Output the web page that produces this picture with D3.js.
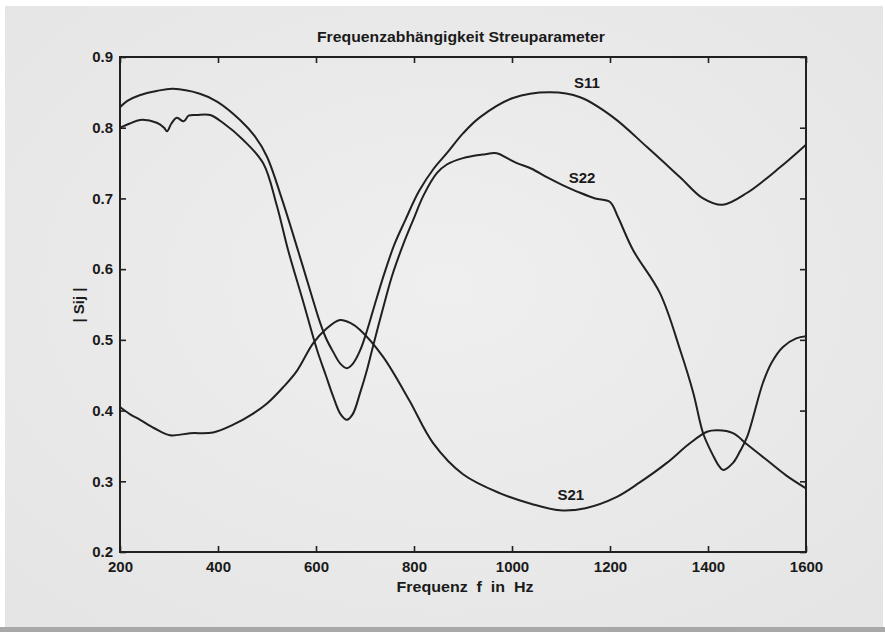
<!DOCTYPE html>
<html><head><meta charset="utf-8">
<script src="https://cdn.jsdelivr.net/npm/d3@7/dist/d3.min.js"></script>
<style>
html,body{margin:0;padding:0;background:#fff;}
svg{display:block;}
text{font-family:"Liberation Sans",Arial,sans-serif;fill:#1a1a1a;}
</style></head>
<body><svg id="c" width="885" height="632"></svg>
<script>
const title = "Frequenzabhängigkeit Streuparameter";
const xLabel = "Frequenz  f  in  Hz";
const yLabel = "| Sij |";
const xTicks = [200, 400, 600, 800, 1000, 1200, 1400, 1600];
const yTicks = [0.2, 0.3, 0.4, 0.5, 0.6, 0.7, 0.8, 0.9];

const s11F = [200,215,240,275,308,363,398,445,475,500,530,563,594,608,620,635,650,663,675,690,705,720,740,760,782,810,840,867,900,935,1002,1078,1139,1206,1275,1343,1390,1430,1480,1547,1600];
const s11V = [.829,.838,.846,.852,.855,.848,.837,.811,.788,.759,.70,.627,.556,.525,.503,.483,.466,.46,.466,.485,.515,.55,.595,.635,.669,.71,.742,.764,.792,.815,.842,.850,.843,.815,.773,.730,.700,.691,.708,.744,.776];

const s22F = [200,220,241,275,290,296,305,316,330,340,357,384,410,451,492,520,543,573,602,620,635,650,663,675,690,705,716,735,755,778,798,820,847,867,900,940,969,990,1010,1040,1071,1100,1139,1170,1200,1216,1247,1302,1343,1370,1390,1410,1422,1431,1451,1465,1480,1512,1530,1553,1580,1600];
const s22V = [.800,.806,.811,.807,.800,.795,.806,.814,.809,.817,.818,.818,.807,.783,.750,.69,.627,.556,.486,.45,.42,.395,.387,.395,.425,.46,.49,.54,.59,.635,.669,.705,.736,.748,.757,.762,.764,.757,.750,.742,.730,.720,.708,.700,.695,.674,.627,.566,.486,.425,.368,.337,.322,.316,.326,.342,.363,.439,.468,.490,.502,.505];

const s21F = [200,220,241,270,302,343,390,431,470,500,533,560,594,620,649,670,690,737,790,839,900,976,1040,1098,1150,1214,1260,1316,1360,1398,1420,1451,1480,1520,1560,1600];
const s21V = [.405,.395,.387,.375,.365,.368,.369,.380,.395,.41,.433,.455,.495,.515,.528,.524,.514,.476,.415,.354,.31,.283,.268,.259,.262,.278,.298,.326,.352,.370,.372,.368,.352,.330,.308,.290];

const seriesNames = ["S11","S22","S21"];
const labelPos = [[1153,.856],[1143,.722],[1120,.2735]];

const svg = d3.select("#c");
svg.append("rect").attr("x",0).attr("y",0).attr("width",885).attr("height",632).attr("fill","#ffffff");
const defs = svg.append("defs");
const rg = defs.append("radialGradient").attr("id","paper").attr("cx","50%").attr("cy","45%").attr("r","70%");
rg.append("stop").attr("offset","0%").attr("stop-color","#efefef");
rg.append("stop").attr("offset","100%").attr("stop-color","#e5e5e5");
svg.append("rect").attr("x",5).attr("y",6).attr("width",878).attr("height",621).attr("fill","url(#paper)");
svg.append("rect").attr("x",0).attr("y",627).attr("width",885).attr("height",5).attr("fill","#a8a8a8");

const L=120,R=806,T=57,B=552;
const x = d3.scaleLinear().domain([200,1600]).range([L,R]);
const y = d3.scaleLinear().domain([0.2,0.9]).range([B,T]);

const g = svg.append("g");
const ink = "#202020";

g.append("rect").attr("x",L).attr("y",T).attr("width",R-L).attr("height",B-T)
 .attr("fill","none").attr("stroke",ink).attr("stroke-width",2);

const tickFont = "'Liberation Sans',Arial,sans-serif";
const axB = g.append("g").attr("transform",`translate(0,${B})`)
  .call(d3.axisBottom(x).tickValues(xTicks).tickSize(-6).tickPadding(9).tickFormat(d3.format("d")));
const axT = g.append("g").attr("transform",`translate(0,${T})`)
  .call(d3.axisTop(x).tickValues(xTicks).tickSize(-6).tickFormat(""));
const axL = g.append("g").attr("transform",`translate(${L},0)`)
  .call(d3.axisLeft(y).tickValues(yTicks).tickSize(-6).tickFormat(d3.format(".1f")));
const axR = g.append("g").attr("transform",`translate(${R},0)`)
  .call(d3.axisRight(y).tickValues(yTicks).tickSize(-6).tickFormat(""));
[axB,axT,axL,axR].forEach(a=>{
  a.select(".domain").remove();
  a.selectAll(".tick line").attr("stroke",ink).attr("stroke-width",1.6);
  a.selectAll("text").attr("font-size",15).attr("font-weight","bold").attr("fill","#1a1a1a")
   .attr("font-family",tickFont);
});
axL.selectAll(".tick line").attr("x1",0).attr("x2",6);
axL.selectAll("text").attr("x",-7);
axR.selectAll(".tick line").attr("x1",0).attr("x2",-6);

const line = d3.line().x(d=>x(d[0])).y(d=>y(d[1])).curve(d3.curveCatmullRom.alpha(0.5));
const data = [d3.zip(s11F,s11V), d3.zip(s22F,s22V), d3.zip(s21F,s21V)];
data.forEach(d=>{
  g.append("path").datum(d).attr("d",line).attr("fill","none").attr("stroke",ink)
   .attr("stroke-width",2).attr("stroke-linejoin","round");
});

seriesNames.forEach((n,i)=>{
  g.append("text").attr("x",x(labelPos[i][0])).attr("y",y(labelPos[i][1]))
   .attr("font-size",15).attr("font-weight","bold").attr("text-anchor","middle").text(n);
});

svg.append("text").attr("x",461).attr("y",42).attr("text-anchor","middle")
  .attr("font-size",14.5).attr("font-weight","bold")
  .attr("textLength",288).attr("lengthAdjust","spacingAndGlyphs").text(title);
svg.append("text").attr("x",465).attr("y",592).attr("text-anchor","middle")
  .attr("font-size",14).attr("font-weight","bold").attr("xml:space","preserve")
  .attr("textLength",137).attr("lengthAdjust","spacingAndGlyphs").text(xLabel);
svg.append("text").attr("transform","translate(84,305) rotate(-90)").attr("text-anchor","middle")
  .attr("font-size",15).attr("font-weight","bold").attr("xml:space","preserve").text(yLabel);
</script></body></html>
